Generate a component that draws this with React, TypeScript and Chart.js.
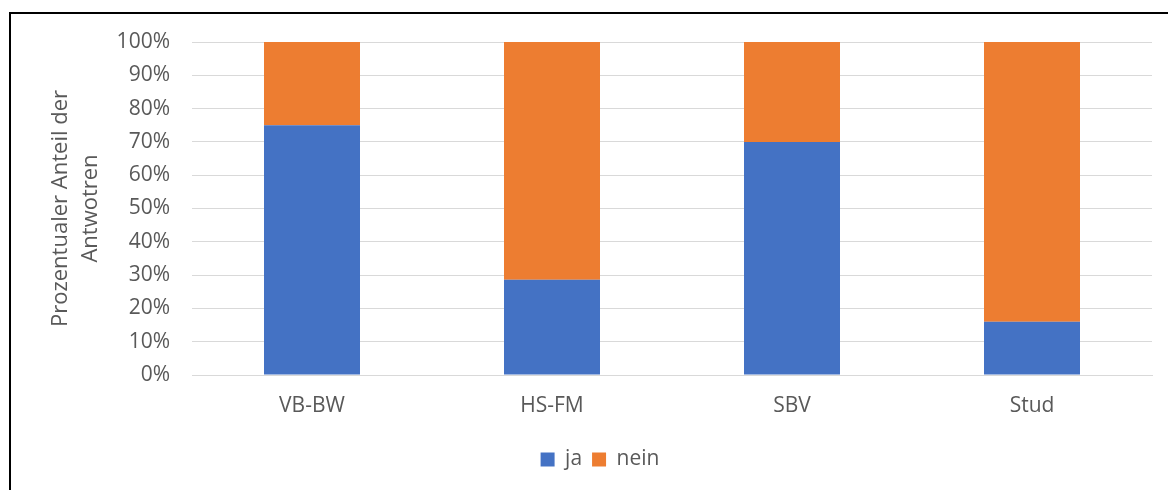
import React, { useEffect, useRef } from "react";
import { Chart, registerables } from "chart.js";

Chart.register(...registerables);

const categories = ["VB-BW", "HS-FM", "SBV", "Stud"];
const jaValues = [75, 28.6, 70, 16];
const neinValues = [25, 71.4, 30, 84];
const yTicks = [0, 10, 20, 30, 40, 50, 60, 70, 80, 90, 100];
const yTitle = ["Prozentualer Anteil der", "Antwotren"];

const FONT = "'Open Sans', sans-serif";
const TEXT = "#595959";
const GRID = "#d9d9d9";

const borderPlugin = {
  id: "frameBorder",
  beforeDraw(chart: any) {
    const ctx = chart.ctx;
    ctx.save();
    ctx.fillStyle = "#ffffff";
    ctx.fillRect(0, 0, chart.width, chart.height);
    ctx.strokeStyle = "#000000";
    ctx.lineWidth = 2;
    ctx.beginPath();
    ctx.moveTo(9, 13);
    ctx.lineTo(chart.width, 13);
    ctx.moveTo(10, 12);
    ctx.lineTo(10, chart.height);
    ctx.stroke();
    ctx.restore();
  },
};

const legendShift = {
  id: "legendShift",
  afterLayout(chart: any) {
    if (chart.legend) {
      chart.legend.left += 24;
      chart.legend.right += 24;
    }
  },
};

export default function App() {
  const ref = useRef<HTMLCanvasElement | null>(null);

  useEffect(() => {
    document.body.style.margin = "0";
    if (!ref.current) return;
    const chart = new Chart(ref.current, {
      type: "bar",
      data: {
        labels: categories,
        datasets: [
          {
            label: "ja",
            data: jaValues,
            backgroundColor: "#4472C4",
            categoryPercentage: 0.4,
            barPercentage: 1,
          },
          {
            label: "nein",
            data: neinValues,
            backgroundColor: "#ED7D31",
            categoryPercentage: 0.4,
            barPercentage: 1,
          },
        ],
      },
      options: {
        responsive: false,
        animation: false,
        devicePixelRatio: 1,
        layout: { padding: { left: 0, right: 16, top: 42, bottom: 10 } },
        plugins: {
          legend: {
            position: "bottom",
            labels: {
              boxWidth: 14,
              boxHeight: 14,
              padding: 10,
              color: TEXT,
              font: { family: FONT, size: 21 },
            },
          },
          tooltip: { enabled: false },
        },
        scales: {
          x: {
            stacked: true,
            grid: { display: false, drawTicks: false },
            border: { display: true, color: GRID, width: 1 },
            ticks: {
              color: TEXT,
              padding: 18,
              font: { family: FONT, size: 21, lineHeight: 1.2 },
            },
            afterFit(scale: any) {
              scale.height = 64;
            },
          },
          y: {
            stacked: true,
            min: 0,
            max: 100,
            afterBuildTicks(scale: any) {
              scale.ticks = yTicks.map((v) => ({ value: v }));
            },
            grid: { color: GRID, lineWidth: 1, drawTicks: false },
            border: { display: false },
            ticks: {
              color: TEXT,
              padding: 22,
              font: { family: FONT, size: 21 },
              callback: (v: any) => v + "%",
            },
            title: {
              display: true,
              text: yTitle,
              color: TEXT,
              font: { family: FONT, size: 22, lineHeight: 1.36 },
              padding: { top: 46, bottom: 0 },
            },
            afterFit(scale: any) {
              scale.width = 192;
            },
          },
        },
      },
      plugins: [borderPlugin, legendShift],
    } as any);
    return () => chart.destroy();
  }, []);

  return <canvas ref={ref} width={1168} height={490} style={{ display: "block" }} />;
}
